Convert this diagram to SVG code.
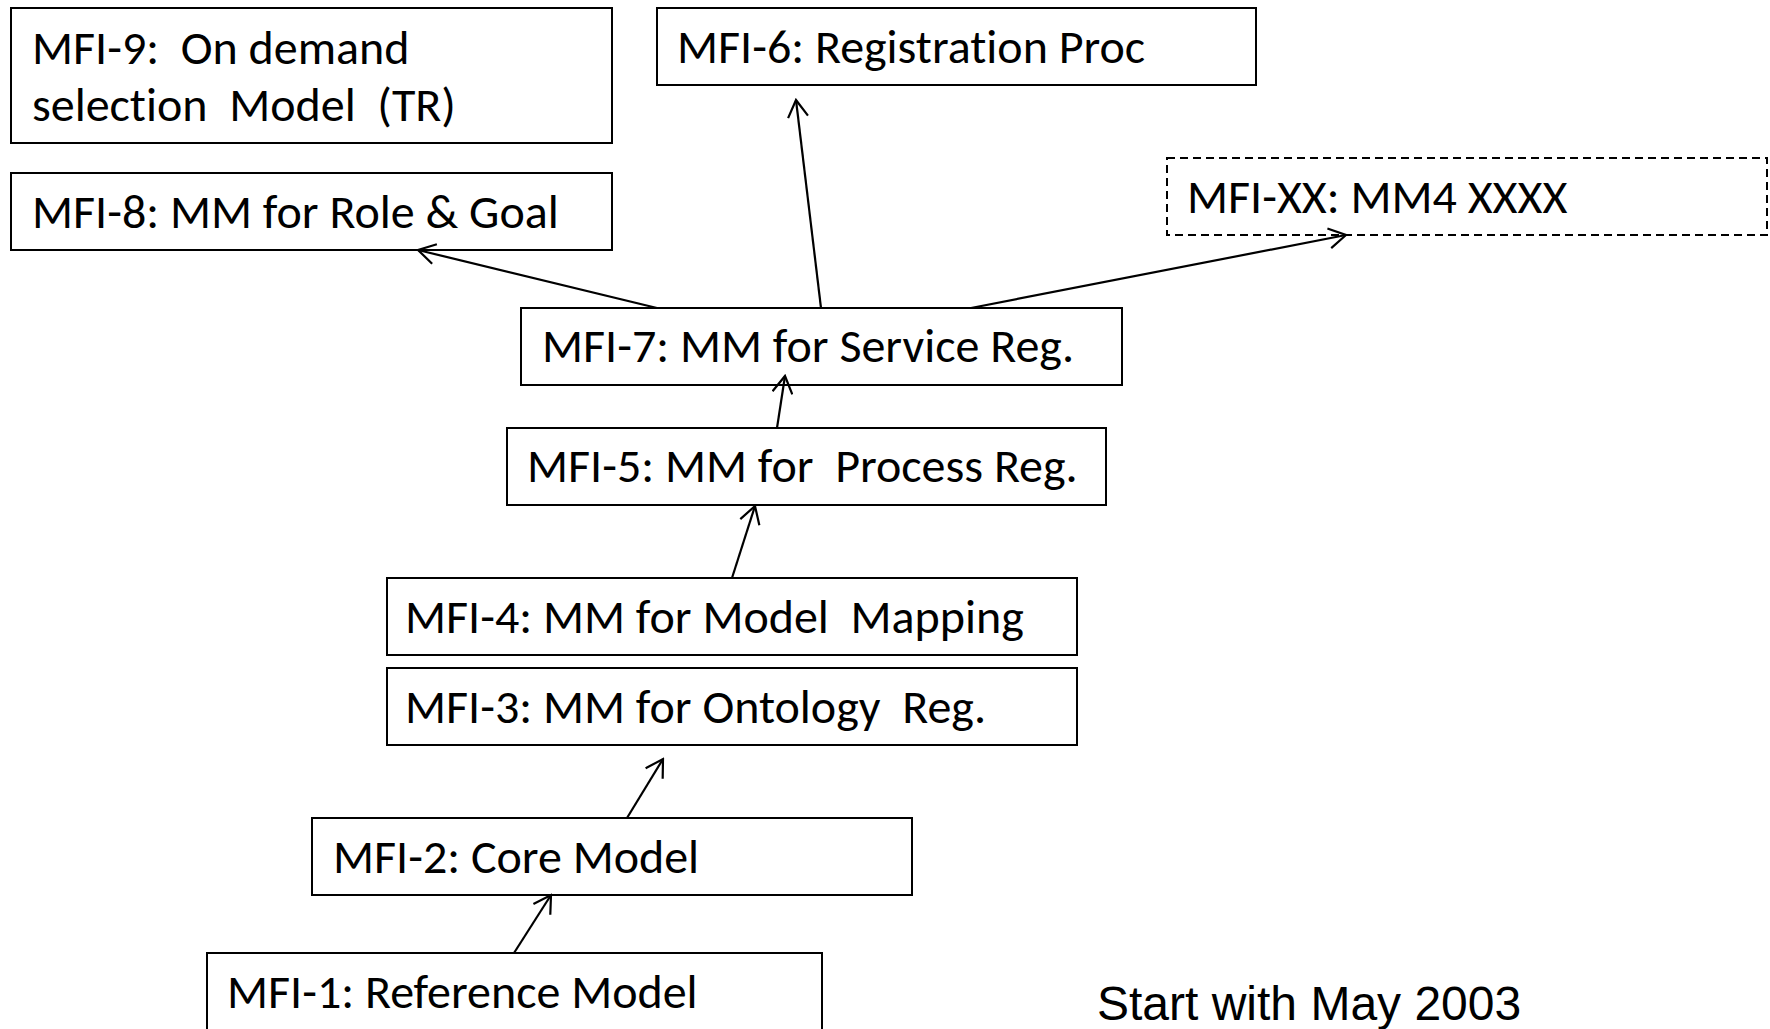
<svg xmlns="http://www.w3.org/2000/svg" width="1770" height="1029" viewBox="0 0 1770 1029">
<style>
.box{fill:#fff;stroke:#000;stroke-width:2}
.dash{fill:#fff;stroke:#000;stroke-width:2;stroke-dasharray:8 5}
.t{font-family:Carlito,Lato,"Open Sans",sans-serif;font-size:48px;fill:#000;white-space:pre;font-variant-ligatures:none}
.s{font-family:"Liberation Sans",Arial,sans-serif;font-size:48px;fill:#000}
.c{stroke:#000;stroke-width:2.2;fill:none;marker-end:url(#ah)}
</style>
<defs>
<marker id="ah" markerUnits="userSpaceOnUse" viewBox="0 0 20 22" refX="18" refY="11" markerWidth="20" markerHeight="22" orient="auto">
<path d="M1,1 L18,11 L1,21" fill="none" stroke="#000" stroke-width="2.2"/>
</marker>
</defs>
<rect width="1770" height="1029" fill="#fff"/>
<g id="mfi9"><rect class="box" x="11" y="8" width="601" height="135"/><text class="t" x="32" y="64">MFI-9:  On demand</text><text class="t" x="32" y="121">selection  Model  (TR)</text></g>
<g id="mfi6"><rect class="box" x="657" y="8" width="599" height="77"/><text class="t" x="677" y="63">MFI-6: Registration Proc</text></g>
<g id="mfi8"><rect class="box" x="11" y="173" width="601" height="77"/><text class="t" x="32" y="228">MFI-8: MM for Role &amp; Goal</text></g>
<g id="mfixx"><rect class="dash" x="1167" y="158" width="600" height="77"/><text class="t" x="1187" y="213">MFI-XX: MM4 XXXX</text></g>
<g id="mfi7"><rect class="box" x="521" y="308" width="601" height="77"/><text class="t" x="542" y="362">MFI-7: MM for Service Reg.</text></g>
<g id="mfi5"><rect class="box" x="507" y="428" width="599" height="77"/><text class="t" x="527" y="482">MFI-5: MM for  Process Reg.</text></g>
<g id="mfi4"><rect class="box" x="387" y="578" width="690" height="77"/><text class="t" x="405" y="633">MFI-4: MM for Model  Mapping</text></g>
<g id="mfi3"><rect class="box" x="387" y="668" width="690" height="77"/><text class="t" x="405" y="723">MFI-3: MM for Ontology  Reg.</text></g>
<g id="mfi2"><rect class="box" x="312" y="818" width="600" height="77"/><text class="t" x="333" y="873">MFI-2: Core Model</text></g>
<g id="mfi1"><rect class="box" x="207" y="953" width="615" height="100"/><text class="t" x="227" y="1008">MFI-1: Reference Model</text></g>
<text id="note" class="s" x="1097" y="1020">Start with May 2003</text>
<g id="connectors">
<line class="c" x1="514" y1="953" x2="551" y2="895"/>
<line class="c" x1="627" y1="818" x2="663" y2="759"/>
<line class="c" x1="732" y1="578" x2="755" y2="506"/>
<line class="c" x1="777" y1="428" x2="785" y2="376"/>
<line class="c" x1="657" y1="308" x2="418" y2="250"/>
<line class="c" x1="821" y1="308" x2="796" y2="100"/>
<line class="c" x1="971" y1="308" x2="1346" y2="235"/>
</g>
</svg>
